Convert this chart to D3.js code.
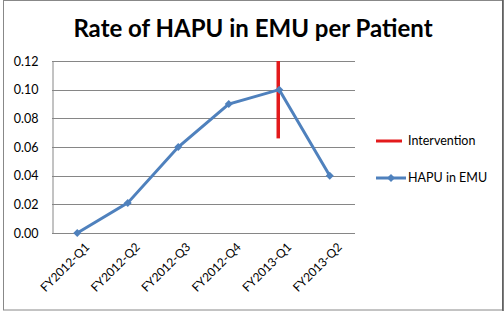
<!DOCTYPE html>
<html>
<head>
<meta charset="utf-8">
<script src="https://cdn.jsdelivr.net/npm/d3@7"></script>
<style>
  body { margin: 0; background: #fff; }
  text { font-family: Lato, "Liberation Sans", sans-serif; fill: #000; }
</style>
</head>
<body>
<script>
 // data
 const quarters = ['FY2012-Q1', 'FY2012-Q2', 'FY2012-Q3', 'FY2012-Q4', 'FY2013-Q1', 'FY2013-Q2'];
 const hapu = [0.0, 0.021, 0.06, 0.09, 0.10, 0.04];
 const yTicks = [0, 0.02, 0.04, 0.06, 0.08, 0.10, 0.12];
 const interventionAt = 'FY2013-Q1';
 const interventionRange = [0.066, 0.12];
 const legendLabels = ['Intervention', 'HAPU in EMU'];
 const title = 'Rate of HAPU in EMU per Patient';

 // constants
 const width = 504, height = 313;
 const margin = { top: 61, bottom: 80, left: 52, right: 149 };
 const blue = '#4f81bd', red = '#e31a1c', grid = '#868686';

 const svg = d3.select('body').append('svg')
       .attr('width', width).attr('height', height);

 // outer frame
 svg.append('rect').attr('x', 3.5).attr('y', 0.5).attr('width', 499).attr('height', 309.5)
    .attr('fill', 'white').attr('stroke', '#888').attr('stroke-width', 1);
 svg.append('line').attr('x1', 503).attr('x2', 503).attr('y1', 0).attr('y2', 311)
    .attr('stroke', '#555').attr('stroke-width', 1.5);

 // title
 svg.append('text').attr('x', 253).attr('y', 37).attr('text-anchor', 'middle')
    .style('font-size', '24px').style('font-weight', 'bold').text(title);

 // scales
 const xScale = d3.scalePoint().domain(quarters)
       .range([margin.left, width - margin.right]).padding(0.5);
 const yScale = d3.scaleLinear().domain([0, 0.12])
       .range([height - margin.bottom, margin.top]);

 // gridlines
 svg.append('g').selectAll('line').data(yTicks).enter().append('line')
    .attr('x1', margin.left).attr('x2', width - margin.right)
    .attr('y1', d => Math.round(yScale(d)) + 0.5).attr('y2', d => Math.round(yScale(d)) + 0.5)
    .attr('stroke', grid);

 // y axis
 const yAxis = svg.append('g').attr('transform', `translate(${margin.left + 0.5},0)`)
    .call(d3.axisLeft(yScale).tickValues(yTicks).tickFormat(d3.format('.2f')).tickSize(0).tickPadding(14));
 yAxis.select('.domain').attr('stroke', grid);
 yAxis.selectAll('text').style('font-size', '12.5px').style('font-family', 'Lato, sans-serif');

 // x axis labels
 svg.append('g').selectAll('text').data(quarters).enter().append('text')
    .attr('transform', d => `translate(${xScale(d) + 7},${height - margin.bottom + 9}) rotate(-45)`)
    .attr('text-anchor', 'end').attr('dy', '0.7em')
    .style('font-size', '12px').text(d => d);

 // intervention line
 svg.append('line')
    .attr('x1', xScale(interventionAt) - 1).attr('x2', xScale(interventionAt) - 1)
    .attr('y1', yScale(interventionRange[1])).attr('y2', yScale(interventionRange[0]))
    .attr('stroke', red).attr('stroke-width', 3.5);

 // data line
 const line = d3.line().x((d, i) => xScale(quarters[i])).y(d => yScale(d));
 svg.append('path').datum(hapu).attr('d', line)
    .attr('fill', 'none').attr('stroke', blue).attr('stroke-width', 3);

 const diamond = d3.symbol().type(d3.symbolSquare).size(32);
 svg.append('g').selectAll('path').data(hapu).enter().append('path')
    .attr('d', diamond)
    .attr('transform', (d, i) => `translate(${xScale(quarters[i])},${yScale(d)}) rotate(45)`)
    .attr('fill', blue);

 // legend
 const legend = svg.append('g').attr('transform', 'translate(376,0)');
 const legendY = [141, 178];
 legend.append('line').attr('x1', 0).attr('x2', 26).attr('y1', legendY[0]).attr('y2', legendY[0])
       .attr('stroke', red).attr('stroke-width', 3);
 legend.append('line').attr('x1', 0).attr('x2', 30).attr('y1', legendY[1]).attr('y2', legendY[1])
       .attr('stroke', blue).attr('stroke-width', 3);
 legend.append('path').attr('d', diamond)
       .attr('transform', `translate(15,${legendY[1]}) rotate(45)`).attr('fill', blue);
 legend.selectAll('text.lbl').data(legendLabels).enter().append('text')
       .attr('class', 'lbl')
       .attr('x', 32).attr('y', (d, i) => legendY[i]).attr('dy', '0.35em')
       .style('font-size', '12.5px').text(d => d);
</script>
</body>
</html>
